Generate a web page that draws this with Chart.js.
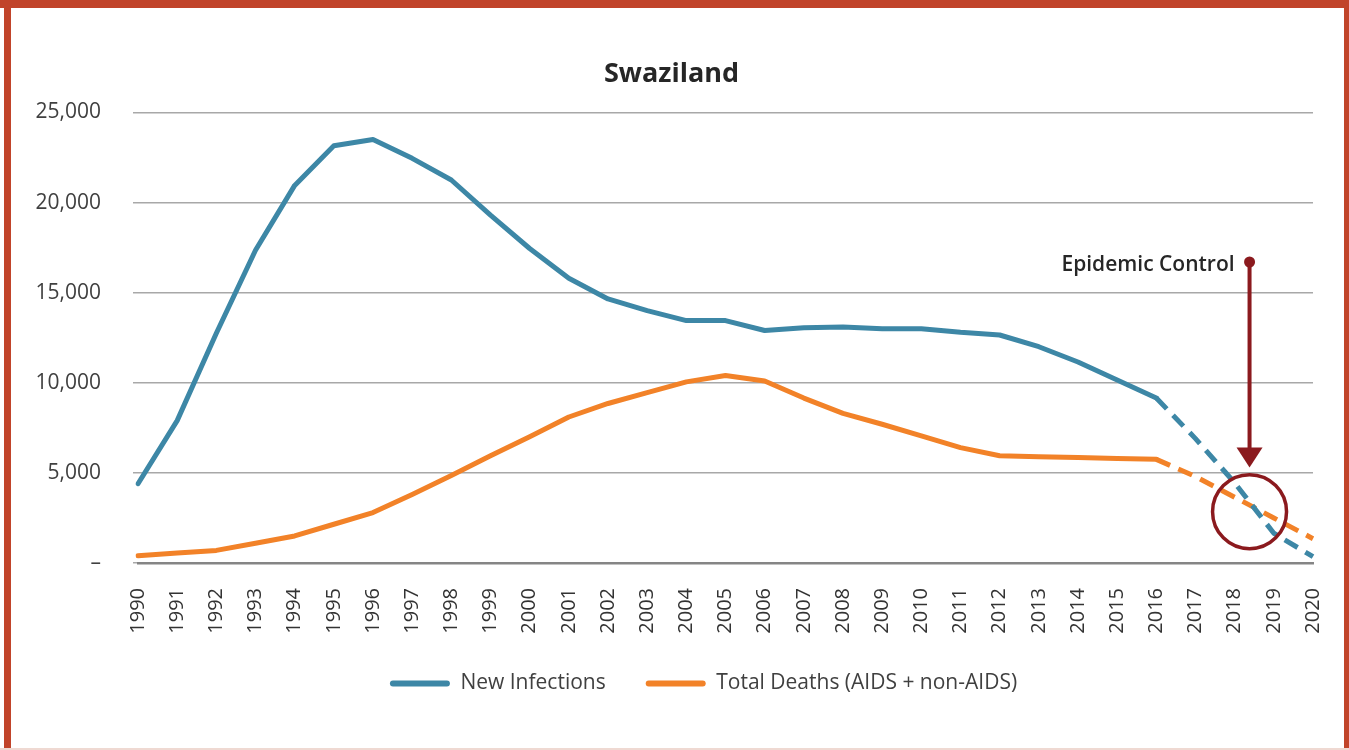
<!DOCTYPE html>
<html><head><meta charset="utf-8">
<script src="https://cdn.jsdelivr.net/npm/chart.js@4.4.1/dist/chart.umd.min.js"></script>
<style>
html,body{margin:0;padding:0;background:#fff;}
#wrap{position:relative;width:1349px;height:750px;overflow:hidden;background:#fff;}
canvas{position:absolute;left:0;top:0;}
.b{position:absolute;background:#C1442A;}
</style></head><body>
<div id="wrap">
<canvas id="c" width="1349" height="750"></canvas>
<div class="b" style="left:0;top:0;width:1349px;height:8px"></div>
<div class="b" style="left:4px;top:0;width:7px;height:750px"></div>
<div class="b" style="left:1344px;top:0;width:5px;height:750px"></div>
<div style="position:absolute;left:0;top:748px;width:1349px;height:2px;background:#EFD9D2"></div>
</div>
<script>
const chartTitle = 'Swaziland';
const years = ['1990','1991','1992','1993','1994','1995','1996','1997','1998','1999','2000',
  '2001','2002','2003','2004','2005','2006','2007','2008','2009','2010',
  '2011','2012','2013','2014','2015','2016','2017','2018','2019','2020'];
const newInfections = [4400,7900,12750,17350,20950,23150,23500,22450,21250,19300,17450,
  15800,14650,14000,13450,13450,12900,13050,13100,13000,13000,
  12800,12650,12000,11150,10150,9150,6900,4450,1650,350];
const totalDeaths = [400,550,700,1100,1500,2150,2800,3800,4850,5950,7000,
  8100,8850,9450,10050,10400,10100,9150,8300,7700,7050,
  6400,5950,5900,5850,5800,5750,4800,3650,2500,1350];
const seriesNames = ['New Infections','Total Deaths (AIDS + non-AIDS)'];
const yTickValues = [0,5000,10000,15000,20000,25000];
const projectionStartIndex = 26; // 2016: lines are dashed after this year
const epidemicControl = {label:'Epidemic Control', year:2018.38, dotValue:16700, arrowTipValue:5300, circleValue:2850};

const BLUE = '#3D87A6', ORANGE = '#F28228', DARKRED = '#8B1A1E';
Chart.defaults.font.family = "'Open Sans', sans-serif";

const dashed = ctx => ctx.p0DataIndex >= projectionStartIndex;

const annotationPlugin = {
  id: 'epidemicControl',
  afterDatasetsDraw(chart) {
    const xs = chart.scales.x, ys = chart.scales.y, ctx = chart.ctx;
    const f = epidemicControl.year - Number(years[0]);
    const i0 = Math.floor(f), fr = f - i0;
    const x = xs.getPixelForValue(i0) + fr * (xs.getPixelForValue(i0 + 1) - xs.getPixelForValue(i0));
    const yDot = ys.getPixelForValue(epidemicControl.dotValue);
    const yTip = ys.getPixelForValue(epidemicControl.arrowTipValue);
    const yCirc = ys.getPixelForValue(epidemicControl.circleValue);
    ctx.save();
    ctx.strokeStyle = DARKRED; ctx.fillStyle = DARKRED;
    ctx.lineWidth = 4;
    ctx.beginPath(); ctx.moveTo(x, yDot); ctx.lineTo(x, yTip - 18); ctx.stroke();
    ctx.beginPath(); ctx.moveTo(x - 13, yTip - 20); ctx.lineTo(x + 13, yTip - 20); ctx.lineTo(x, yTip); ctx.closePath(); ctx.fill();
    ctx.beginPath(); ctx.arc(x, yDot, 5.5, 0, Math.PI * 2); ctx.fill();
    ctx.lineWidth = 3.5;
    ctx.beginPath(); ctx.arc(x, yCirc, 37, 0, Math.PI * 2); ctx.stroke();
    ctx.fillStyle = '#262626';
    ctx.font = "600 21px 'Open Sans', sans-serif";
    ctx.textAlign = 'right'; ctx.textBaseline = 'middle';
    ctx.fillText(epidemicControl.label, x - 15, yDot + 3);
    ctx.restore();
  }
};
const legendShift = {
  id: 'legendShift',
  afterLayout(chart) { const l = chart.legend; if (l) { l.left += 32; l.right += 32; } }
};

new Chart(document.getElementById('c'), {
  type: 'line',
  data: {
    labels: years,
    datasets: [
      { label: seriesNames[0], data: newInfections, borderColor: BLUE, backgroundColor: BLUE },
      { label: seriesNames[1], data: totalDeaths, borderColor: ORANGE, backgroundColor: ORANGE }
    ].map(d => Object.assign(d, {
      borderWidth: 5, pointRadius: 0, tension: 0, borderJoinStyle: 'round', borderCapStyle: 'round',
      segment: {
        borderDash: ctx => dashed(ctx) ? [15, 9] : undefined,
        borderCapStyle: ctx => dashed(ctx) ? 'butt' : 'round'
      }
    }))
  },
  options: {
    responsive: false, animation: false, devicePixelRatio: 1,
    layout: { padding: { left: 30, right: 36, top: 40, bottom: 46 } },
    plugins: {
      title: { display: true, text: chartTitle, color: '#262626',
        font: { size: 27, weight: 'bold' }, padding: { top: 18, bottom: 22 } },
      legend: {
        position: 'bottom',
        labels: {
          color: '#404040', font: { size: 21 }, boxWidth: 60, boxHeight: 6, padding: 40,
          useBorderRadius: true, borderRadius: 3,
          generateLabels: chart => chart.data.datasets.map((d, i) => ({
            text: d.label, fillStyle: d.borderColor, strokeStyle: d.borderColor, lineWidth: 0,
            hidden: false, datasetIndex: i, borderRadius: 3, fontColor: '#404040'
          }))
        }
      },
      tooltip: { enabled: false }
    },
    scales: {
      x: {
        offset: false,
        grid: { display: false, drawTicks: false },
        border: { display: true, color: '#858585', width: 2.5 },
        ticks: { color: '#333', font: { size: 20 }, minRotation: 90, maxRotation: 90, padding: 25, autoSkip: false },
        afterFit: s => { s.height = 70; s.paddingLeft = 0; s.paddingRight = 0; }
      },
      y: {
        min: 0, max: 25000,
        afterBuildTicks: s => { s.ticks = yTickValues.map(v => ({ value: v })); },
        grid: { color: '#A8A8A8', lineWidth: 1.5, drawTicks: true, tickLength: 5 },
        border: { display: false },
        ticks: { color: '#404040', font: { size: 21 }, padding: 32,
          callback: v => v === 0 ? '–' : v.toLocaleString('en-US') },
        afterFit: s => { s.width = 108; }
      }
    }
  },
  plugins: [annotationPlugin, legendShift]
});
</script>
</body></html>
